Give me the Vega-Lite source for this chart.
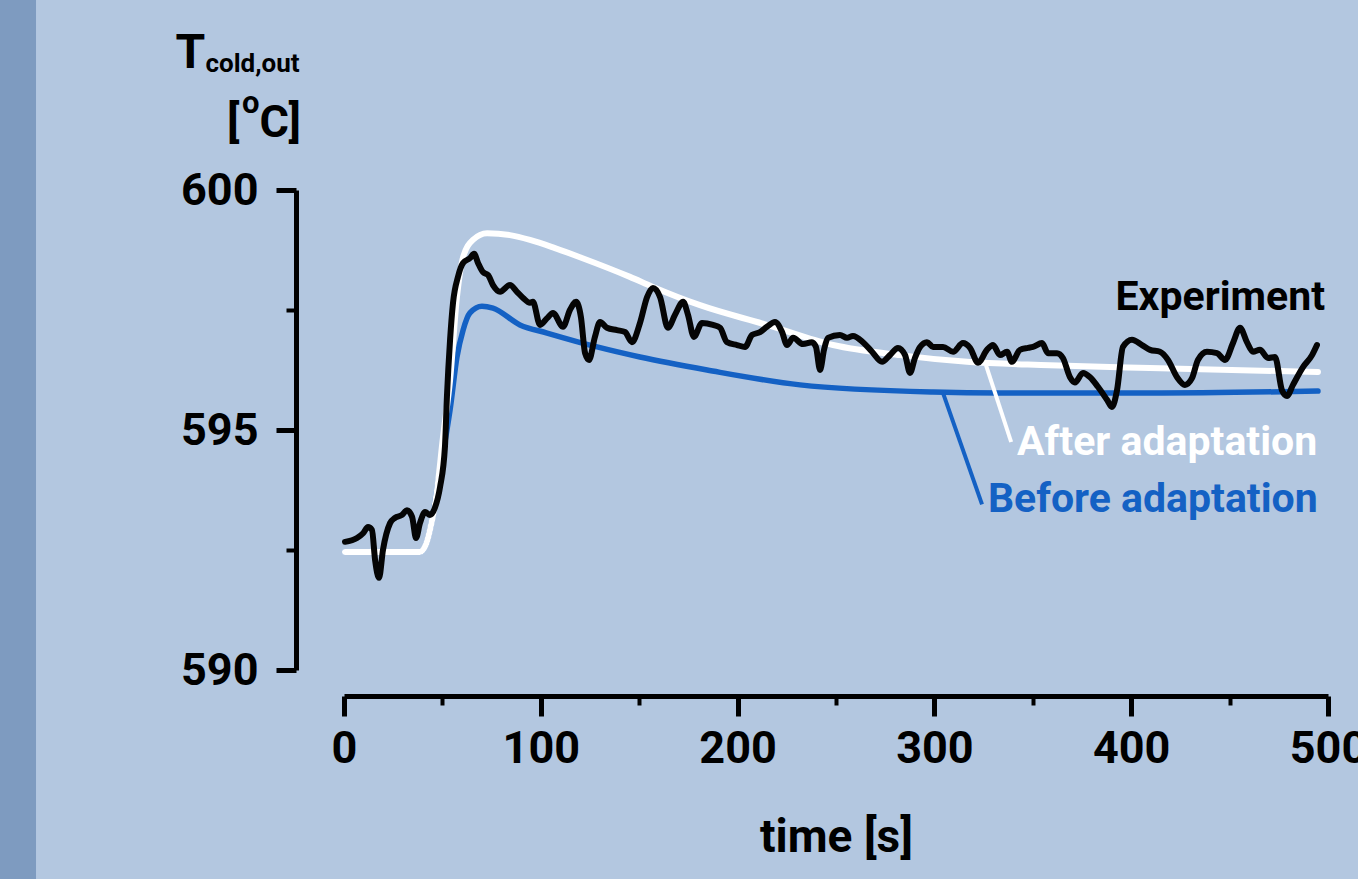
{
  "$schema": "https://vega.github.io/schema/vega-lite/v6.json",
  "width": 984,
  "height": 480,
  "autosize": "none",
  "padding": {"left": 344, "top": 190, "right": 30, "bottom": 209},
  "background": "#b3c7e0",
  "config": {
    "view": {"stroke": null},
    "axis": {
      "grid": false,
      "domainColor": "#000000",
      "tickColor": "#000000",
      "labelColor": "#000000",
      "titleColor": "#000000",
      "labelFont": "Roboto",
      "labelFontWeight": "bold",
      "labelFontSize": 45,
      "domainWidth": 5,
      "labelOverlap": false
    }
  },
  "datasets": {
    "strip": [{"t": -174.8, "t2": -156.5, "temp": 585, "temp2": 606}],
    "experiment": [
      {"t":0.5,"temp":592.67},{"t":6.6,"temp":592.75},{"t":9.7,"temp":592.85},{"t":12.2,"temp":592.98},{"t":14.2,"temp":592.92},{"t":15.8,"temp":592.29},{"t":17.8,"temp":591.92},{"t":19.8,"temp":592.5},{"t":23.4,"temp":593.06},{"t":25.9,"temp":593.17},{"t":29.5,"temp":593.23},{"t":32.0,"temp":593.33},{"t":34.6,"temp":593.19},{"t":36.6,"temp":592.75},{"t":38.6,"temp":593.06},{"t":41.2,"temp":593.29},{"t":43.7,"temp":593.23},{"t":46.2,"temp":593.38},{"t":48.8,"temp":593.81},{"t":51.3,"temp":594.65},{"t":52.3,"temp":595.69},{"t":53.9,"temp":596.88},{"t":55.4,"temp":597.65},{"t":57.9,"temp":598.19},{"t":60.5,"temp":598.48},{"t":64.0,"temp":598.58},{"t":66.1,"temp":598.67},{"t":68.1,"temp":598.48},{"t":70.6,"temp":598.29},{"t":73.2,"temp":598.23},{"t":75.7,"temp":598.02},{"t":79.3,"temp":597.88},{"t":84.3,"temp":598.02},{"t":87.9,"temp":597.88},{"t":91.0,"temp":597.75},{"t":94.5,"temp":597.65},{"t":96.0,"temp":597.67},{"t":99.6,"temp":597.19},{"t":103.2,"temp":597.33},{"t":106.2,"temp":597.44},{"t":111.3,"temp":597.15},{"t":114.8,"temp":597.5},{"t":117.9,"temp":597.67},{"t":120.4,"temp":597.35},{"t":122.5,"temp":596.6},{"t":124.5,"temp":596.46},{"t":127.5,"temp":596.94},{"t":130.1,"temp":597.25},{"t":133.6,"temp":597.13},{"t":138.7,"temp":597.08},{"t":142.8,"temp":597.04},{"t":146.3,"temp":596.83},{"t":150.4,"temp":597.23},{"t":154.0,"temp":597.77},{"t":157.0,"temp":597.96},{"t":160.6,"temp":597.77},{"t":164.6,"temp":597.13},{"t":168.2,"temp":597.4},{"t":172.3,"temp":597.67},{"t":174.8,"temp":597.4},{"t":177.8,"temp":596.94},{"t":181.9,"temp":597.23},{"t":187.5,"temp":597.19},{"t":191.1,"temp":597.13},{"t":194.6,"temp":596.83},{"t":199.7,"temp":596.77},{"t":203.8,"temp":596.73},{"t":207.3,"temp":596.98},{"t":211.4,"temp":597.04},{"t":214.9,"temp":597.15},{"t":219.0,"temp":597.25},{"t":222.6,"temp":597.04},{"t":225.1,"temp":596.77},{"t":228.2,"temp":596.92},{"t":233.2,"temp":596.79},{"t":237.8,"temp":596.83},{"t":239.8,"temp":596.73},{"t":241.9,"temp":596.25},{"t":243.9,"temp":596.67},{"t":245.9,"temp":596.92},{"t":252.0,"temp":596.98},{"t":255.6,"temp":596.92},{"t":258.6,"temp":596.96},{"t":263.7,"temp":596.83},{"t":268.3,"temp":596.63},{"t":273.4,"temp":596.42},{"t":277.4,"temp":596.56},{"t":281.5,"temp":596.71},{"t":285.1,"temp":596.56},{"t":287.6,"temp":596.19},{"t":290.1,"temp":596.5},{"t":292.7,"temp":596.73},{"t":296.2,"temp":596.83},{"t":299.3,"temp":596.73},{"t":304.4,"temp":596.73},{"t":309.5,"temp":596.63},{"t":314.5,"temp":596.81},{"t":318.1,"temp":596.71},{"t":322.2,"temp":596.4},{"t":326.7,"temp":596.67},{"t":329.8,"temp":596.77},{"t":333.3,"temp":596.56},{"t":336.9,"temp":596.63},{"t":339.4,"temp":596.42},{"t":343.5,"temp":596.67},{"t":347.6,"temp":596.71},{"t":350.1,"temp":596.73},{"t":354.7,"temp":596.81},{"t":357.7,"temp":596.6},{"t":362.3,"temp":596.6},{"t":365.3,"temp":596.5},{"t":368.9,"temp":596.1},{"t":371.4,"temp":595.99},{"t":375.5,"temp":596.19},{"t":379.1,"temp":596.1},{"t":383.1,"temp":595.9},{"t":387.7,"temp":595.63},{"t":390.2,"temp":595.48},{"t":392.8,"temp":595.83},{"t":395.8,"temp":596.73},{"t":400.4,"temp":596.88},{"t":405.5,"temp":596.77},{"t":409.6,"temp":596.67},{"t":414.6,"temp":596.63},{"t":418.7,"temp":596.46},{"t":423.3,"temp":596.1},{"t":427.3,"temp":595.94},{"t":430.9,"temp":596.08},{"t":433.9,"temp":596.46},{"t":438.5,"temp":596.63},{"t":443.6,"temp":596.6},{"t":447.7,"temp":596.46},{"t":451.7,"temp":596.81},{"t":455.3,"temp":597.13},{"t":458.8,"temp":596.83},{"t":461.9,"temp":596.63},{"t":465.4,"temp":596.67},{"t":469.5,"temp":596.5},{"t":473.1,"temp":596.52},{"t":476.6,"temp":595.83},{"t":479.2,"temp":595.71},{"t":482.2,"temp":595.94},{"t":487.3,"temp":596.31},{"t":491.9,"temp":596.56},{"t":494.4,"temp":596.77}
    ],
    "after": [
      {"t":0.5,"temp":592.46},{"t":38.6,"temp":592.46},{"t":41.5,"temp":592.6},{"t":43.7,"temp":592.92},{"t":47.3,"temp":593.75},{"t":50.3,"temp":594.85},{"t":53.9,"temp":596.04},{"t":57.4,"temp":597.77},{"t":60.5,"temp":598.6},{"t":65.5,"temp":598.96},{"t":72.7,"temp":599.1},{"t":84.3,"temp":599.06},{"t":94.5,"temp":598.96},{"t":107.2,"temp":598.79},{"t":119.9,"temp":598.6},{"t":145.3,"temp":598.19},{"t":157,"temp":597.98},{"t":180.9,"temp":597.6},{"t":214.9,"temp":597.19},{"t":248.5,"temp":596.77},{"t":282.5,"temp":596.56},{"t":316.6,"temp":596.42},{"t":358.7,"temp":596.35},{"t":409.6,"temp":596.29},{"t":494.9,"temp":596.21}
    ],
    "before": [
      {"t":0.5,"temp":592.46},{"t":38.6,"temp":592.46},{"t":41.5,"temp":592.6},{"t":43.7,"temp":592.92},{"t":48.8,"temp":594.17},{"t":52.3,"temp":595.0},{"t":53.9,"temp":595.42},{"t":57.4,"temp":596.52},{"t":60.5,"temp":597.08},{"t":64.0,"temp":597.44},{"t":70.1,"temp":597.58},{"t":75.7,"temp":597.54},{"t":89.4,"temp":597.19},{"t":103.2,"temp":597.02},{"t":128.6,"temp":596.73},{"t":150.4,"temp":596.52},{"t":184.5,"temp":596.25},{"t":231.7,"temp":595.94},{"t":299.3,"temp":595.79},{"t":333.3,"temp":595.77},{"t":409.6,"temp":595.77},{"t":494.9,"temp":595.81}
    ],
    "leaders": [
      {"series": "After adaptation", "t": 326.2, "temp": 596.35, "t2": 339.0, "temp2": 594.75},
      {"series": "Before adaptation", "t": 304.4, "temp": 595.77, "t2": 324.2, "temp2": 593.45}
    ],
    "annotations": [
      {"series": "After adaptation", "t": 342.0, "temp": 594.48},
      {"series": "Before adaptation", "t": 327.2, "temp": 593.29}
    ],
    "expLabel": [{"series": "Experiment", "t": 498.5, "temp": 597.5}],
    "titleMain": [{"text": "T", "t": -85.6, "temp": 602.55}],
    "titleSub": [{"text": "cold,out", "t": -70.4, "temp": 602.46}],
    "titleUnit": [{"text": "[", "t": -59.4, "temp": 601.1}, {"text": "C]", "t": -43.0, "temp": 601.1}],
    "titleSup": [{"text": "o", "t": -51.8, "temp": 601.6}]
  },
  "encoding": {
    "x": {
      "field": "t",
      "type": "quantitative",
      "scale": {"domain": [0, 500], "nice": false, "zero": false},
      "axis": {
        "values": [0, 50, 100, 150, 200, 250, 300, 350, 400, 450, 500],
        "offset": 26,
        "tickSize": {"condition": {"test": "datum.value % 100 === 0", "value": 20}, "value": 9},
        "tickWidth": {"condition": {"test": "datum.value % 100 === 0", "value": 5}, "value": 4},
        "labelExpr": "datum.value % 100 === 0 ? datum.label : ''",
        "labelPadding": 10,
        "labelFlush": false,
        "format": "d",
        "title": "time [s]",
        "titleFont": "Roboto",
        "titleFontWeight": "bold",
        "titleFontSize": 46,
        "titlePadding": 44
      }
    },
    "y": {
      "field": "temp",
      "type": "quantitative",
      "scale": {"domain": [590, 600], "nice": false, "zero": false},
      "axis": {
        "values": [590, 592.5, 595, 597.5, 600],
        "offset": 48,
        "tickSize": {"condition": {"test": "datum.value % 5 === 0", "value": 20}, "value": 10},
        "tickWidth": {"condition": {"test": "datum.value % 5 === 0", "value": 5}, "value": 4},
        "labelExpr": "datum.value % 5 === 0 ? datum.label : ''",
        "labelPadding": 18,
        "format": "d",
        "title": null
      }
    }
  },
  "layer": [
    {
      "data": {"name": "strip"},
      "mark": {"type": "rect", "color": "#7e9bc0"},
      "encoding": {"x2": {"field": "t2"}, "y2": {"field": "temp2"}}
    },
    {
      "data": {"name": "before"},
      "mark": {"type": "line", "color": "#1461c4", "strokeWidth": 5.5, "interpolate": "monotone", "strokeCap": "round", "strokeJoin": "round"}
    },
    {
      "data": {"name": "after"},
      "mark": {"type": "line", "color": "#ffffff", "strokeWidth": 6, "interpolate": "monotone", "strokeCap": "round", "strokeJoin": "round"}
    },
    {
      "data": {"name": "experiment"},
      "mark": {"type": "line", "color": "#050505", "strokeWidth": 6, "interpolate": "monotone", "strokeCap": "round", "strokeJoin": "round"}
    },
    {
      "data": {"name": "leaders"},
      "mark": {"type": "rule", "strokeWidth": 4},
      "encoding": {
        "x2": {"field": "t2"},
        "y2": {"field": "temp2"},
        "color": {"field": "series", "type": "nominal", "scale": {"domain": ["After adaptation", "Before adaptation", "Experiment"], "range": ["#ffffff", "#1461c4", "#000000"]}, "legend": null}
      }
    },
    {
      "data": {"name": "annotations"},
      "mark": {"type": "text", "align": "left", "baseline": "alphabetic", "font": "Roboto", "fontWeight": "bold", "fontSize": 41, "limit": 0},
      "encoding": {
        "text": {"field": "series"},
        "color": {"field": "series", "type": "nominal", "scale": {"domain": ["After adaptation", "Before adaptation", "Experiment"], "range": ["#ffffff", "#1461c4", "#000000"]}, "legend": null}
      }
    },
    {
      "data": {"name": "expLabel"},
      "mark": {"type": "text", "align": "right", "baseline": "alphabetic", "font": "Roboto", "fontWeight": "bold", "fontSize": 41, "color": "#000000"},
      "encoding": {"text": {"field": "series"}}
    },
    {
      "data": {"name": "titleMain"},
      "mark": {"type": "text", "align": "left", "baseline": "alphabetic", "font": "Roboto", "fontWeight": "bold", "fontSize": 48, "color": "#000000"},
      "encoding": {"text": {"field": "text"}}
    },
    {
      "data": {"name": "titleSub"},
      "mark": {"type": "text", "align": "left", "baseline": "alphabetic", "font": "Roboto", "fontWeight": "bold", "fontSize": 26, "color": "#000000"},
      "encoding": {"text": {"field": "text"}}
    },
    {
      "data": {"name": "titleUnit"},
      "mark": {"type": "text", "align": "left", "baseline": "alphabetic", "font": "Roboto", "fontWeight": "bold", "fontSize": 45, "color": "#000000"},
      "encoding": {"text": {"field": "text"}}
    },
    {
      "data": {"name": "titleSup"},
      "mark": {"type": "text", "align": "left", "baseline": "alphabetic", "font": "Roboto", "fontWeight": "bold", "fontSize": 31, "color": "#000000"},
      "encoding": {"text": {"field": "text"}}
    }
  ]
}
